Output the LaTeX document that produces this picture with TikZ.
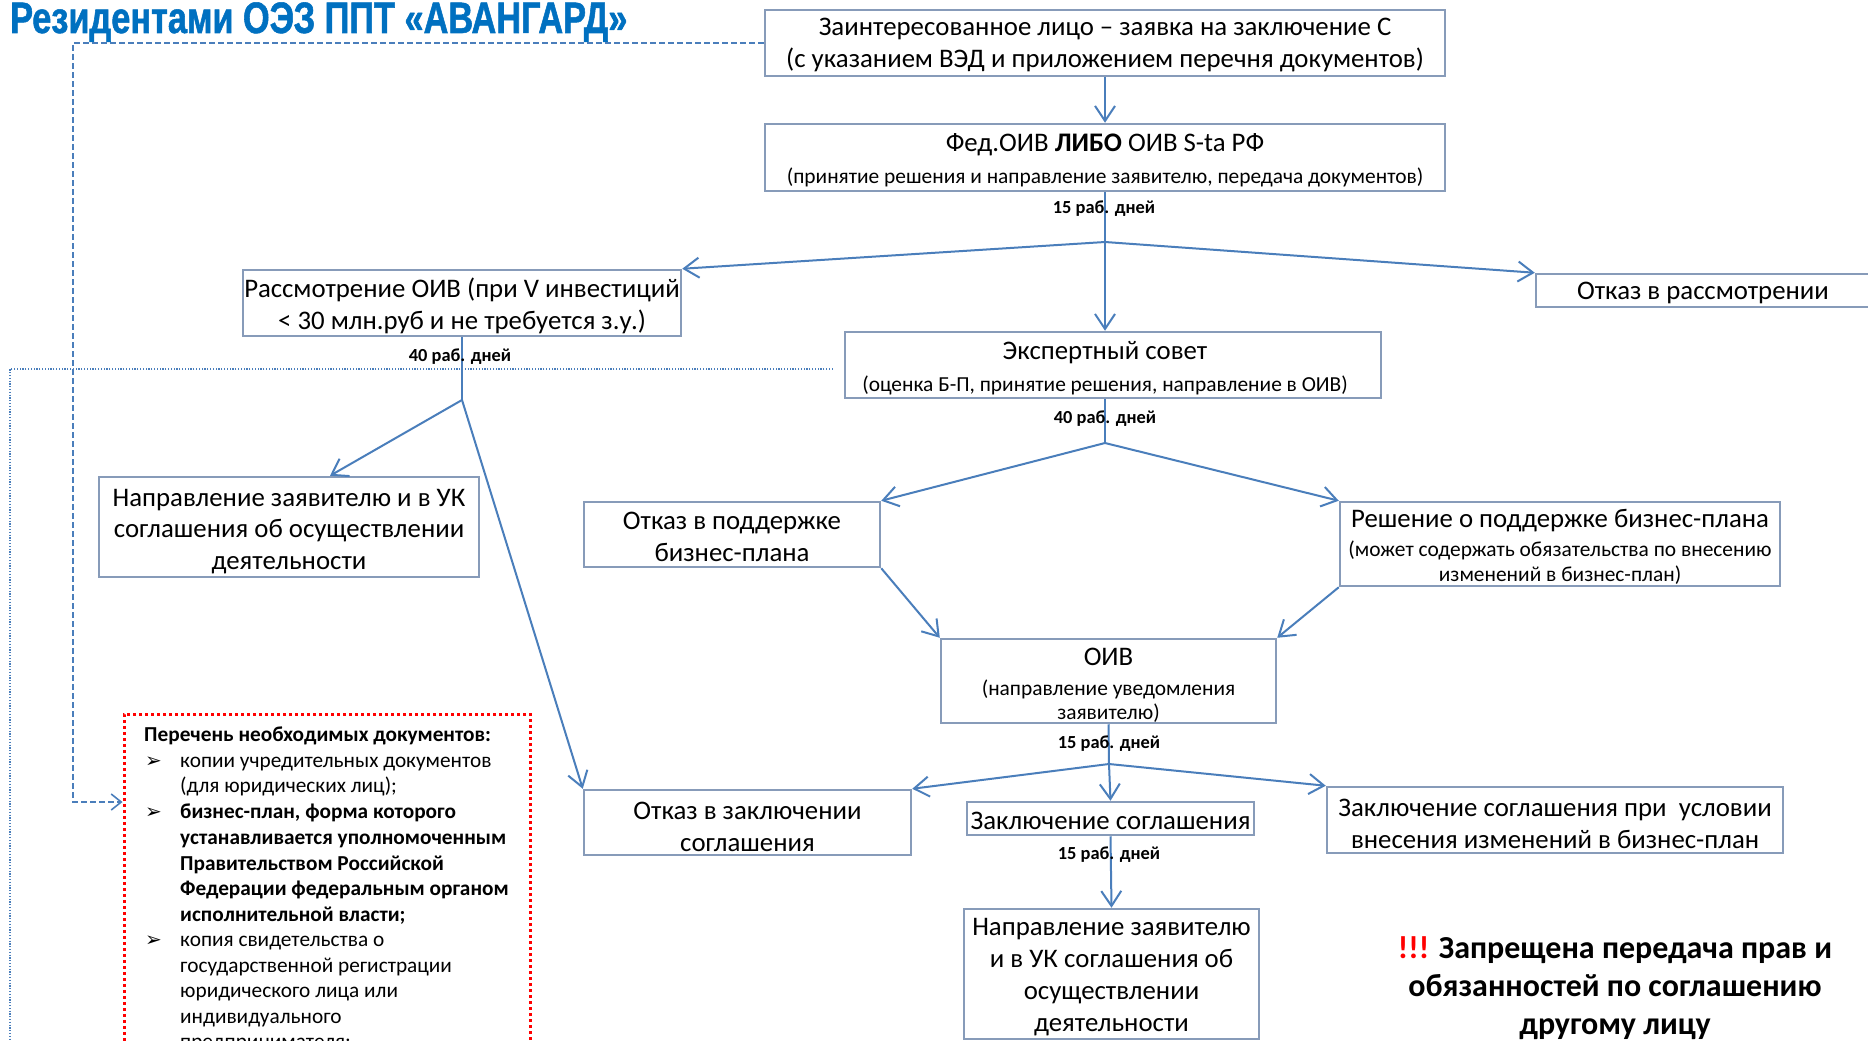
\documentclass[tikz,border=0pt]{standalone}
\usepackage{fontspec}
\setmainfont{Carlito}
\newfontfamily\titlefont[FakeStretch=0.78,FakeBold=1.2]{Liberation Sans}
\newfontfamily\symfont{DejaVu Sans}
\usetikzlibrary{arrows.meta,calc}
\definecolor{arrowblue}{RGB}{74,126,187}
\definecolor{boxedge}{RGB}{135,155,185}
\definecolor{titleblue}{RGB}{0,112,192}
\newcommand{\fs}[2]{\fontsize{#1}{#2}\selectfont}
\begin{document}
\begin{tikzpicture}[x=1pt,y=-1pt,
  box/.style={draw=boxedge, line width=2.5pt, fill=white, inner sep=0pt},
  txt/.style={inner sep=0pt, align=center, font=\fs{26.8}{32}},
  sub/.style={inner sep=0pt, align=center, font=\fs{21.4}{24}},
  arr/.style={draw=arrowblue, line width=2pt, -{Straight Barb[length=15pt,width=20pt]}},
  ln/.style={draw=arrowblue, line width=2pt},
  dashline/.style={draw=arrowblue, line width=1.6pt, dash pattern=on 6pt off 3pt, -{Straight Barb[length=10pt,width=16pt]}},
  dotline/.style={draw=arrowblue, line width=1.2pt, dash pattern=on 1.2pt off 1.6pt},
  days/.style={font=\bfseries\fs{18.4}{20}, inner sep=0pt},
  doc/.style={anchor=base west, inner sep=0pt, font=\fs{21.3}{24}},
  bdoc/.style={anchor=base west, inner sep=0pt, font=\bfseries\fs{21.3}{24}},
  bul/.style={anchor=base west, inner sep=0pt, font=\symfont\fs{20}{20}},
]
\useasboundingbox (0,0) rectangle (1868,1041);
\fill[white] (0,0) rectangle (1868,1041);

% title
\node[anchor=base west, inner sep=0pt, font=\titlefont\bfseries\fs{44}{44}, text=titleblue] (title) at (10,33) {Резидентами ОЭЗ ППТ «АВАНГАРД»};

% boxes
\node[box, minimum width=680pt, minimum height=66pt] (top) at (1105,43) {};
\node[box, minimum width=680pt, minimum height=67pt] (fed) at (1105,157.5) {};
\node[box, minimum width=438pt, minimum height=66pt] (rass) at (462,303) {};
\node[box, minimum width=344pt, minimum height=33pt] (otkazR) at (1708,290.5) {};
\node[box, minimum width=536pt, minimum height=66pt] (expert) at (1113,365) {};
\node[box, minimum width=380pt, minimum height=100pt] (napr1) at (289,527) {};
\node[box, minimum width=296pt, minimum height=65pt] (otkazP) at (732,534.5) {};
\node[box, minimum width=440pt, minimum height=84pt] (resh) at (1560,544) {};
\node[box, minimum width=335pt, minimum height=84pt] (oiv) at (1108.5,681) {};
\node[box, minimum width=327pt, minimum height=65pt] (otkazZ) at (747.5,822.5) {};
\node[box, minimum width=287pt, minimum height=33pt] (zakl) at (1110.5,818.5) {};
\node[box, minimum width=456pt, minimum height=66pt] (zaklU) at (1555,820) {};
\node[box, minimum width=295pt, minimum height=130pt] (napr2) at (1111.5,974) {};

% box texts
\node[txt] (topT) at (1105,45.3)
  {Заинтересованное лицо – заявка на заключение С\\(с указанием ВЭД и приложением перечня документов)};
\node[txt] (fedT) at (1105,160.3)
  {Фед.ОИВ \textbf{ЛИБО} ОИВ S-ta РФ\\[-0.7pt]{\fs{21.4}{24}(принятие решения и направление заявителю, передача документов)}};
\node[txt] (rassT) at (462,306.2)
  {Рассмотрение ОИВ (при V инвестиций\\< 30 млн.руб и не требуется з.у.)};
\node[txt] (otkazRT) at (1703,292.9) {Отказ в рассмотрении};
\node[txt] (expertT) at (1105,368.5)
  {Экспертный совет\\{\fs{21.4}{24}(оценка Б-П, принятие решения, направление в ОИВ)}};
\node[txt, font=\fs{26.8}{31.5}] (napr1T) at (289,531.5)
  {Направление заявителю и в УК\\соглашения об осуществлении\\деятельности};
\node[txt] (otkazPT) at (732,537) {Отказ в поддержке\\бизнес-плана};
\node[sub, font=\fs{21.4}{25}] (reshT) at (1560,547)
  {{\fs{26.8}{32}Решение о поддержке бизнес-плана}\\[4pt](может содержать обязательства по внесению\\изменений в бизнес-план)};
\node[sub] (oivT) at (1108.5,685.5)
  {{\fs{26.8}{32}ОИВ}\\[6pt](направление уведомления\\заявителю)};
\node[txt] (otkazZT) at (747.5,827) {Отказ в заключении\\соглашения};
\node[txt] (zaklT) at (1110.5,821) {Заключение соглашения};
\node[txt] (zaklUT) at (1555,824)
  {Заключение соглашения при\ \ условии\\внесения изменений в бизнес-план};
\node[txt] (napr2T) at (1111.5,977)
  {Направление заявителю\\и в УК соглашения об\\осуществлении\\деятельности};

% red documents box
\node[draw=red, line width=3pt, dash pattern=on 3pt off 3pt, minimum width=406pt, minimum height=346pt, inner sep=0pt] (docs) at (327,887) {};
\node[bdoc] (h0) at (144,741) {Перечень необходимых документов:};
\node[bul] (u1) at (145,767) {➢};
\node[doc] (l1) at (180,767) {копии учредительных документов};
\node[doc] (l2) at (180,792) {(для юридических лиц);};
\node[bul] (u2) at (145,818) {➢};
\node[bdoc] (l3) at (180,818) {бизнес-план, форма которого};
\node[bdoc] (l4) at (180,844) {устанавливается уполномоченным};
\node[bdoc] (l5) at (180,870) {Правительством Российской};
\node[bdoc] (l6) at (180,895) {Федерации федеральным органом};
\node[bdoc] (l7) at (180,921) {исполнительной власти;};
\node[bul] (u3) at (145,946) {➢};
\node[doc] (l8) at (180,946) {копия свидетельства о};
\node[doc] (l9) at (180,972) {государственной регистрации};
\node[doc] (l10) at (180,997) {юридического лица или};
\node[doc] (l11) at (180,1023) {индивидуального};
\node[doc] (l12) at (180,1048) {предпринимателя;};

% note
\node[font=\bfseries\fs{32}{38}, align=center, inner sep=0pt] (note) at (1615,988)
  {{\color{red}!!!} Запрещена передача прав и\\обязанностей по соглашению\\другому лицу};

% connectors
\coordinate (b1) at (1105,242);
\coordinate (b2) at (462,400);
\coordinate (b3) at (1105,443);
\coordinate (b4) at (1109,764);

\draw[arr] (top.south) -- (fed.north);
\draw[ln] (fed.south) -- (b1);
\draw[arr] (b1) -- (rass.north east);
\draw[arr] (b1) -- (b1 |- expert.north);
\draw[arr] (b1) -- (otkazR.north west);

\draw[ln] (rass.south) -- (b2);
\draw[arr] (b2) -- ([xshift=41pt]napr1.north);
\draw[arr] (b2) -- (otkazZ.north west);

\draw[ln] (b3 |- expert.south) -- (b3);
\draw[arr] (b3) -- (otkazP.north east);
\draw[arr] (b3) -- (resh.north west);
\draw[arr] (otkazP.south east) -- (oiv.north west);
\draw[arr] (resh.south west) -- (oiv.north east);

\draw[ln] (oiv.south) -- (b4);
\draw[arr] (b4) -- (otkazZ.north east);
\draw[arr] (b4) -- (zakl.north);
\draw[arr] (b4) -- (zaklU.north west);
\draw[arr] (zakl.south) -- (napr2.north);

% day labels
\node[days] (d1) at (1104,209) {15 раб. дней};
\node[days] (d2) at (460,357) {40 раб. дней};
\node[days] (d3) at (1105,419) {40 раб. дней};
\node[days] (d4) at (1109,744) {15 раб. дней};
\node[days] (d5) at (1109,855) {15 раб. дней};

% dashed and dotted
\coordinate (dA) at (73,43);
\coordinate (dB) at (73,802);
\draw[dashline] (top.west) -- (dA) -- (dB) -- (dB -| docs.west);
\coordinate (eA) at (10,369);
\draw[dotline] (expert.west) ++(-11,4) -- (eA) -- (10,1045);
\end{tikzpicture}
\end{document}
